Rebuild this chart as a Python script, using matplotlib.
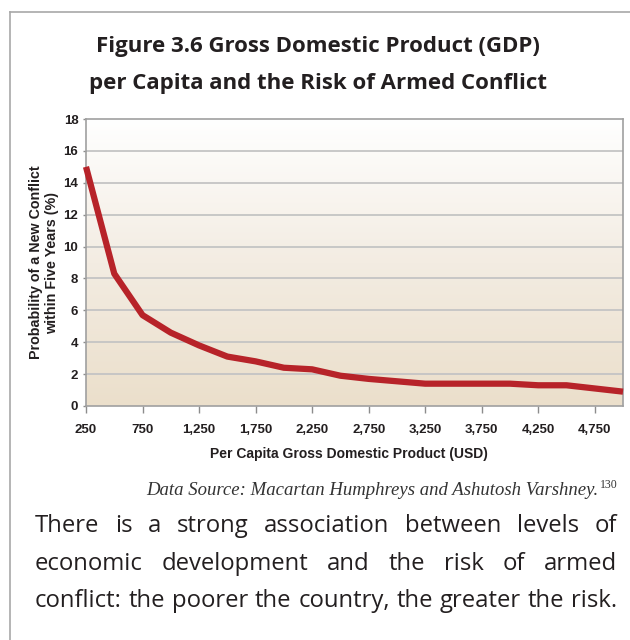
import numpy as np
import matplotlib
matplotlib.use("Agg")
import matplotlib.pyplot as plt
from matplotlib.colors import LinearSegmentedColormap
from matplotlib.lines import Line2D

# GDP per capita (USD) and probability of a new conflict within five years (%)
gdp = [250, 500, 750, 1000, 1250, 1500, 1750, 2000, 2250, 2500, 2750,
       3000, 3250, 3500, 3750, 4000, 4250, 4500, 4750, 5000]
risk = [15.0, 8.3, 5.7, 4.6, 3.8, 3.1, 2.8, 2.4, 2.3, 1.9, 1.7,
        1.55, 1.4, 1.4, 1.4, 1.4, 1.3, 1.3, 1.1, 0.9]
x_ticks = [250, 750, 1250, 1750, 2250, 2750, 3250, 3750, 4250, 4750]
y_ticks = [0, 2, 4, 6, 8, 10, 12, 14, 16, 18]

title = "Figure 3.6 Gross Domestic Product (GDP)\nper Capita and the Risk of Armed Conflict"
source = "Data Source: Macartan Humphreys and Ashutosh Varshney."
note = "130"
body = ["There is a strong association between levels of",
        "economic development and the risk of armed",
        "conflict: the poorer the country, the greater the risk."]

W, H = 630, 640
fig = plt.figure(figsize=(W / 100, H / 100), dpi=100)

# page frame (left and top rules)
fig.add_artist(Line2D([10 / W, 10 / W], [0, 1 - 12 / H], color="#a8a8a8", lw=1.2))
fig.add_artist(Line2D([10 / W, 1], [1 - 12 / H, 1 - 12 / H], color="#a8a8a8", lw=1.2))

fig.text(0.504, 1 - 65 / H, title, ha="center", va="center", fontsize=16,
         fontweight="bold", family="Open Sans", color="#231f20", linespacing=1.95)

ax_l, ax_r, ax_t, ax_b = 86, 623, 119, 406
ax = fig.add_axes([ax_l / W, 1 - ax_b / H, (ax_r - ax_l) / W, (ax_b - ax_t) / H])
ax.set_xlim(250, 5000)
ax.set_ylim(0, 18)

# vertical background gradient
cmap = LinearSegmentedColormap.from_list("bg", ["#ebdfcb", "#f3ece2", "#ffffff"])
grad = np.linspace(0, 1, 256).reshape(-1, 1)
ax.imshow(grad, cmap=cmap, aspect="auto", origin="lower",
          extent=[250, 5000, 0, 18], zorder=0)

for yv in y_ticks[1:-1]:
    ax.axhline(yv, color="#c4c4c4", lw=1.3, zorder=1)

ax.plot(gdp, risk, color="#b72329", lw=4.5, solid_joinstyle="round",
        solid_capstyle="butt", zorder=3, clip_on=False)

for s in ax.spines.values():
    s.set_color("#a0a0a0")
    s.set_linewidth(1.2)

ax.set_xticks(x_ticks)
ax.set_xticklabels([f"{v:,}" for v in x_ticks])
ax.set_yticks(y_ticks)
ax.tick_params(axis="both", colors="#8c8c8c", labelcolor="#231f20",
               labelsize=9.5, width=1)
ax.tick_params(axis="x", length=5, pad=8)
ax.tick_params(axis="y", length=2.5, pad=3)
for lab in ax.get_xticklabels() + ax.get_yticklabels():
    lab.set_fontweight("bold")
    lab.set_family("Liberation Sans")

ax.set_xlabel("Per Capita Gross Domestic Product (USD)", fontsize=10,
              fontweight="bold", family="Liberation Sans", color="#231f20")
ax.xaxis.set_label_coords(0.49, -(447 - ax_b) / (ax_b - ax_t))
ax.set_ylabel("Probability of a New Conflict\nwithin Five Years (%)", fontsize=10.3,
              fontweight="bold", family="Liberation Sans", color="#231f20",
              linespacing=1.15, va="center")
ax.yaxis.set_label_coords(-(ax_l - 44) / (ax_r - ax_l), 0.5)

# source line with superscript note number
fig.text(598 / W, 1 - 495 / H, source, ha="right", va="baseline",
         fontsize=13.5, style="italic", family="Liberation Serif",
         color="#333333")
fig.text(600 / W, 1 - 488 / H, note, ha="left", va="baseline", fontsize=8.5,
         family="Liberation Serif", color="#333333")

# justified body paragraph
renderer = fig.canvas.get_renderer()
left, right = 35, 617
base_y = [532, 570, 607]
fs = 17.2
for i, line in enumerate(body):
    words = line.split(" ")
    arts = [fig.text(0, 1 - base_y[i] / H, w, ha="left", va="baseline",
                     fontsize=fs, family="Open Sans", color="#231f20")
            for w in words]
    widths = [a.get_window_extent(renderer).width for a in arts]
    gap = (right - left - sum(widths)) / (len(words) - 1)
    if i == len(body) - 1:
        gap = min(gap, 7.0)
    x = left
    for a, w in zip(arts, widths):
        a.set_x(x / W)
        x += w + gap

fig.savefig("out.png", dpi=100)
